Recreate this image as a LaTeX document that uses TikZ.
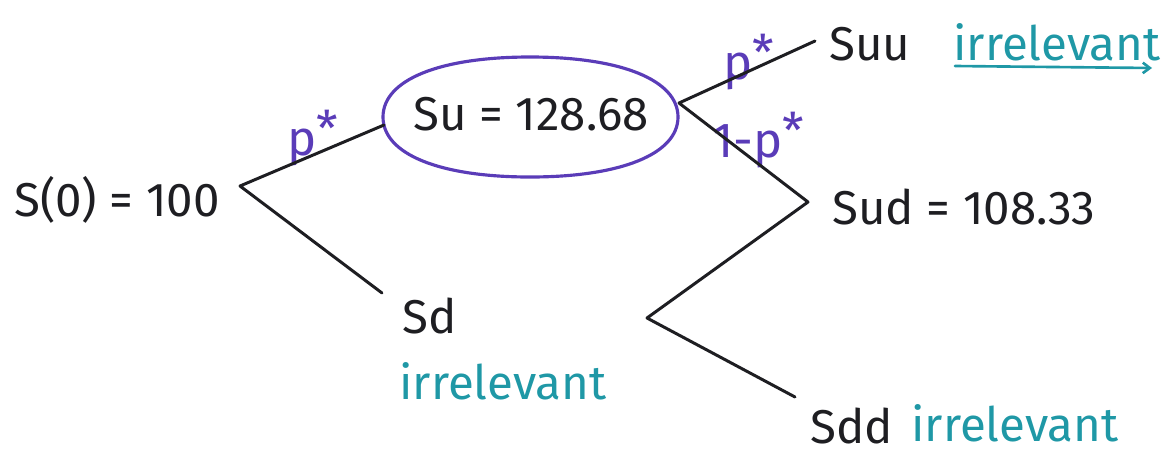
\documentclass[tikz,border=0pt]{standalone}
\usepackage{fontspec}
\setmainfont{Fira Sans}
\usetikzlibrary{shapes.geometric,arrows.meta}
\definecolor{pen}{HTML}{1E1E22}
\definecolor{vio}{HTML}{5A3CB8}
\definecolor{teal}{HTML}{1F98A6}
\tikzset{
  branch/.style={draw=pen,line width=1.7pt,line cap=round,line join=round},
  lbl/.style={font=\fontsize{27}{30}\selectfont,text=pen,inner sep=0pt},
  prob/.style={font=\fontsize{28}{30}\selectfont,text=vio,inner sep=0pt},
  irr/.style={font=\fontsize{27}{30}\selectfont,text=teal,inner sep=0pt},
  ring/.style={draw=vio,line width=1.8pt},
}
\newcommand{\pstar}{p\raisebox{0.2em}{*}}
\begin{document}
\begin{tikzpicture}[x=0.02cm,y=-0.02cm]
\useasboundingbox (0,0) rectangle (1163,454);
% nodes
\node[lbl] (s0) at (117,200) {S(0) = 100};
\node[lbl] (su) at (531,114) {Su = 128.68};
\draw[ring] (678,117) .. controls (678,80) and (621,57) .. (530,57)
  .. controls (439,57) and (383,80) .. (383,117)
  .. controls (383,154) and (439,177) .. (530,177)
  .. controls (621,177) and (678,154) .. (678,117) -- cycle;
\node[lbl] (sd) at (430,316) {Sd};
\node[irr] (irr1) at (503,381) {irrelevant};
\node[lbl] (suu) at (870,44) {Suu};
\node[irr] (irr2) at (1057,42) {irrelevant};
\node[lbl] (sud) at (964,207) {Sud = 108.33};
\node[lbl] (sdd) at (852,426) {Sdd};
\node[irr] (irr3) at (1015,423) {irrelevant};
\node[prob] (p1) at (313,138) {\pstar};
\node[prob] (p2) at (749,62) {\pstar};
\node[prob] (p3) at (758,140) {1-\pstar};
% coordinates
\coordinate (v0) at (240,186);
\coordinate (uend) at (384,125);
\coordinate (dend) at (382,293);
\coordinate (v1) at (679,103);
\coordinate (uuend) at (815,41);
\coordinate (udend) at (808,202);
\coordinate (v2) at (647,318);
\coordinate (ddend) at (795,397);
\coordinate (ul1) at (955,66);
\coordinate (ul2) at (1152,68);
% connectors
\draw[branch] (uend) -- (v0) -- (dend);
\draw[branch] (uuend) -- (v1) -- (udend) -- (v2) -- (ddend);
\draw[draw=teal,line width=1.5pt,line cap=round,-{Straight Barb[length=4pt,width=6pt]}] (ul1) -- (ul2);
\end{tikzpicture}
\end{document}
